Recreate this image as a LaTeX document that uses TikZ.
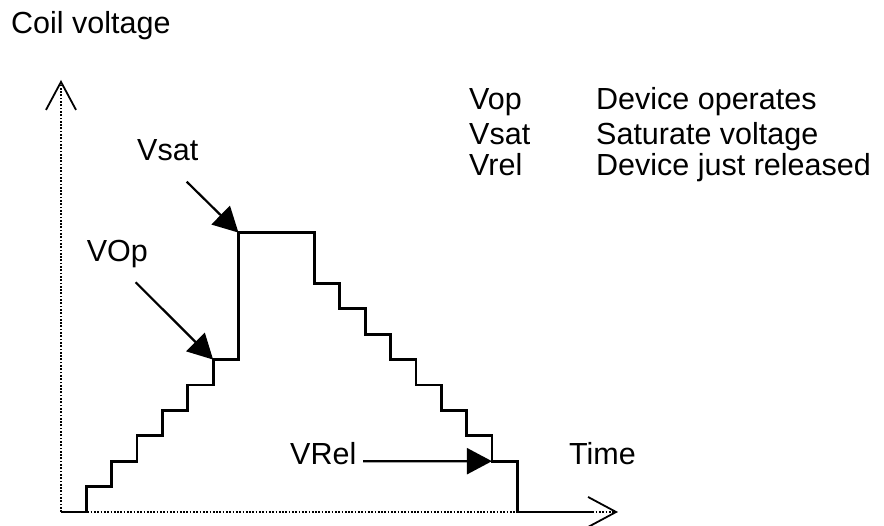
\documentclass[tikz,border=0pt]{standalone}
\usepackage{fontspec}
\setmainfont{Liberation Sans}
\usetikzlibrary{arrows.meta}

\begin{document}
\begin{tikzpicture}[x=1pt, y=1pt,
		lbl/.style={anchor=base west, inner sep=0pt, font=\fontsize{30.5}{36}\selectfont},
		axis/.style={line width=2pt, dash pattern=on 1.7pt off 1.6pt,
			-{Straight Barb[length=28pt, width=30pt, line width=1.8pt]}},
		stair/.style={line width=2.8pt},
		pointer/.style={line width=2.2pt, -{Triangle[length=25pt, width=26pt]}}]
	\useasboundingbox (0,0) rectangle (884,526);

	% AXES
	\coordinate (o) at (61,14); % origin
	\coordinate (ytop) at (61,446);
	\coordinate (xend) at (618,14);
	\draw[axis] (o) -- (ytop);
	\draw[axis] (o) -- (xend);

	% DRAW STAIRCASE
	\begin{scope}[shift={(61,14)}, x=25.35pt, y=25.4pt]
		\coordinate (op) at (6,6); % device operates
		\coordinate (sat) at (7,11); % saturation
		\coordinate (rel) at (17,2); % just released
		\draw[stair] (0,0) -| (1,1) -| (2,2) -| (3,3) -| (4,4) -| (5,5) -| (op)
			-| (sat) -| (10,9) -| (11,8) -| (12,7) -| (13,6) -| (14,5) -| (15,4)
			-| (16,3) -| (rel) -| (18,0) -- (21,0);
	\end{scope}

	% LABELS
	\node[lbl] (coil) at (11,492.5) {Coil voltage};
	\node[lbl] (vsatlbl) at (137,365.3) {Vsat};
	\node[lbl] (voplbl) at (86.7,264.3) {VOp};
	\node[lbl] (vrellbl) at (290,61) {VRel};
	\node[lbl] (time) at (569,61) {Time};

	% LEGEND
	\node[lbl] (k1) at (469,416.7) {Vop};
	\node[lbl] (k2) at (469,381) {Vsat};
	\node[lbl] (k3) at (469,350) {Vrel};
	\node[lbl] (d1) at (596,416.7) {Device operates};
	\node[lbl] (d2) at (596,381) {Saturate voltage};
	\node[lbl] (d3) at (596,350) {Device just released};

	% DRAW POINTERS
	\coordinate (sattail) at (186.7,344.3);
	\coordinate (optail) at (135.7,243.7);
	\coordinate (reltail) at (363,64.8);
	\draw[pointer] (sattail) -- (sat);
	\draw[pointer] (optail) -- (op);
	\draw[pointer] (reltail) -- (rel);
\end{tikzpicture}
\end{document}
